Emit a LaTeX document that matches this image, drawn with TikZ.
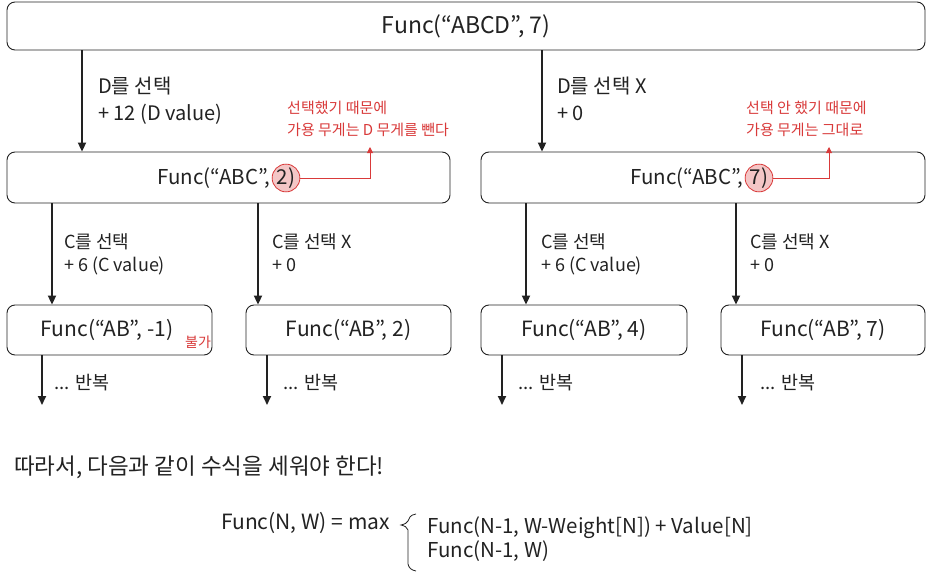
\documentclass[tikz,border=0pt]{standalone}
\usepackage{fontspec}
\setmainfont{Noto Sans CJK KR}
\usetikzlibrary{arrows.meta}
\definecolor{ink}{HTML}{222222}
\definecolor{nred}{HTML}{D93A3A}
\definecolor{npink}{HTML}{F4C6C6}
\begin{document}
\begin{tikzpicture}[x=1pt,y=-1pt]
\useasboundingbox[fill=white] (0,0) rectangle (927,578);
\tikzset{
  fbox/.style={draw=ink, line width=0.9pt, rounded corners=8pt, inner sep=0pt},
  flow/.style={line width=2pt, draw=ink, -{Triangle[length=9pt,width=8pt]}},
  boxtxt/.style={inner sep=0pt, text=ink, font=\fontsize{21}{24}\selectfont},
  lbl/.style={anchor=north west, align=left, inner sep=0pt, text=ink},
  toplbl/.style={lbl, font=\fontsize{20}{27}\selectfont},
  sublbl/.style={lbl, font=\fontsize{18}{23}\selectfont},
  rep/.style={lbl, anchor=west, font=\fontsize{18.5}{20}\selectfont},
  circ/.style={circle, draw=nred, fill=npink, line width=0.8pt, minimum size=26pt, inner sep=0pt, text=ink, font=\fontsize{20.5}{24}\selectfont},
  note/.style={draw=nred, line width=0.9pt, -{Triangle[length=6pt,width=6pt]}},
  notetxt/.style={anchor=north west, align=left, inner sep=0pt, text=nred, font=\fontsize{15}{22}\selectfont},
}
% boxes
\node[fbox, minimum width=918pt, minimum height=48pt] (top) at (466,26) {};
\node[boxtxt, font=\fontsize{23}{26}\selectfont] (topt) at (top.center) {Func(“ABCD”, 7)};
\node[fbox, minimum width=443pt, minimum height=51pt] (la) at (228.5,177.5) {};
\node[fbox, minimum width=444pt, minimum height=51pt] (ra) at (703,177.5) {};
\node[fbox, minimum width=205pt, minimum height=50pt] (b1) at (109.5,330) {};
\node[fbox, minimum width=205pt, minimum height=50pt] (b2) at (348.5,330) {};
\node[fbox, minimum width=206pt, minimum height=50pt] (b3) at (584,330) {};
\node[fbox, minimum width=204pt, minimum height=50pt] (b4) at (823,330) {};
% box texts
\node[circ] (c2) at (286,178) {2)};
\node[boxtxt, font=\fontsize{20.5}{24}\selectfont, anchor=east] (lat) at ([xshift=-1pt]c2.west) {Func(“ABC”,};
\node[circ] (c7) at (759,178) {7)};
\node[boxtxt, font=\fontsize{20.5}{24}\selectfont, anchor=east] (rat) at ([xshift=-1pt]c7.west) {Func(“ABC”,};
\node[boxtxt] (b1t) at (107,330) {Func(“AB”, -1)};
\node[boxtxt] (b2t) at (b2.center) {Func(“AB”, 2)};
\node[boxtxt] (b3t) at (b3.center) {Func(“AB”, 4)};
\node[boxtxt] (b4t) at (b4.center) {Func(“AB”, 7)};
\node[inner sep=0pt, text=nred, font=\fontsize{14}{16}\selectfont] (bulga) at (198,342) {불가};
% arrow x positions
\coordinate (xa) at (82,0);
\coordinate (xb) at (542,0);
\coordinate (x1) at (52,0);
\coordinate (x2) at (258,0);
\coordinate (x3) at (526,0);
\coordinate (x4) at (736,0);
\coordinate (e1) at (42,405);
\coordinate (e2) at (267,405);
\coordinate (e3) at (502,405);
\coordinate (e4) at (742,405);
\draw[flow] (top.south -| xa) -- (la.north -| xa);
\draw[flow] (top.south -| xb) -- (ra.north -| xb);
\draw[flow] (la.south -| x1) -- (b1.north -| x1);
\draw[flow] (la.south -| x2) -- (b2.north -| x2);
\draw[flow] (ra.south -| x3) -- (b3.north -| x3);
\draw[flow] (ra.south -| x4) -- (b4.north -| x4);
\draw[flow] (b1.south -| e1) -- (e1);
\draw[flow] (b2.south -| e2) -- (e2);
\draw[flow] (b3.south -| e3) -- (e3);
\draw[flow] (b4.south -| e4) -- (e4);
% labels
\node[toplbl] (lda) at (98,77) {D를 선택\\+ 12 (D value)};
\node[toplbl] (ldb) at (557,77) {D를 선택 X\\+ 0};
\node[sublbl] (l1) at (64,233) {C를 선택\\+ 6 (C value)};
\node[sublbl] (l2) at (272,233) {C를 선택 X\\+ 0};
\node[sublbl] (l3) at (541,233) {C를 선택\\+ 6 (C value)};
\node[sublbl] (l4) at (750,233) {C를 선택 X\\+ 0};
\node[rep] (r1) at (54,383) {... 반복};
\node[rep] (r2) at (283,383) {... 반복};
\node[rep] (r3) at (518,383) {... 반복};
\node[rep] (r4) at (760,383) {... 반복};
% notes
\node[notetxt] (n2t) at (287,101) {선택했기 때문에\\가용 무게는 D 무게를 뺀다};
\node[notetxt] (n7t) at (746,101) {선택 안 했기 때문에\\가용 무게는 그대로};
\coordinate (n2) at (370,147);
\coordinate (n7) at (829,147);
\draw[note] (c2.east) -| (n2);
\draw[note] (c7.east) -| (n7);
% conclusion
\node[lbl, anchor=west, font=\fontsize{22.5}{26}\selectfont] (conc) at (14,467) {따라서, 다음과 같이 수식을 세워야 한다!};
\node[lbl, anchor=west, font=\fontsize{21}{24}\selectfont] (fl) at (221,523) {Func(N, W) = max};
\node[lbl, anchor=north west, font=\fontsize{20.5}{24}\selectfont] (fr) at (427,517) {Func(N-1, W-Weight[N]) + Value[N]\\Func(N-1, W)};
\draw[ink, line width=0.8pt] (416,514) .. controls (410,515) and (409,518) .. (408,521)
  .. controls (407,523) and (405,524) .. (401,525)
  .. controls (405,526) and (407,527) .. (408,530)
  -- (408,564) .. controls (409,568) and (411,570) .. (416,571);
\end{tikzpicture}
\end{document}
